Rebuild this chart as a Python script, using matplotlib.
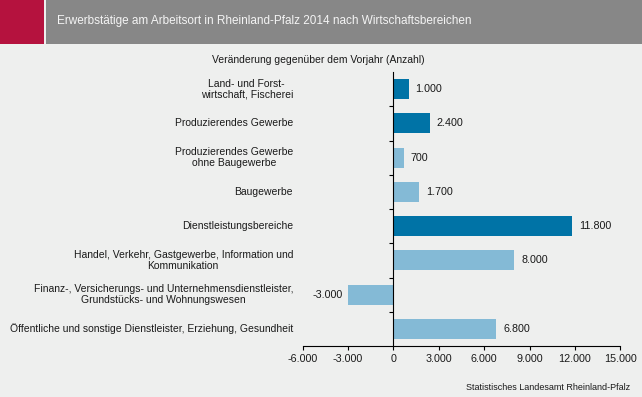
import matplotlib
matplotlib.use("Agg")
import matplotlib.pyplot as plt
from matplotlib.patches import Rectangle
from matplotlib.ticker import FuncFormatter, MultipleLocator

plt.rcParams['font.family'] = ['Liberation Sans', 'DejaVu Sans']

categories = [
    "Land- und Forst-\nwirtschaft, Fischerei",
    "Produzierendes Gewerbe",
    "Produzierendes Gewerbe\nohne Baugewerbe",
    "Baugewerbe",
    "Dienstleistungsbereiche",
    "Handel, Verkehr, Gastgewerbe, Information und\nKommunikation",
    "Finanz-, Versicherungs- und Unternehmensdienstleister,\nGrundstücks- und Wohnungswesen",
    "Öffentliche und sonstige Dienstleister, Erziehung, Gesundheit",
]
values = [1000, 2400, 700, 1700, 11800, 8000, -3000, 6800]
is_main = [True, True, False, False, True, False, False, False]

title = "Erwerbstätige am Arbeitsort in Rheinland-Pfalz 2014 nach Wirtschaftsbereichen"
subtitle = "Veränderung gegenüber dem Vorjahr (Anzahl)"
source = "Statistisches Landesamt Rheinland-Pfalz"

DARK = "#0073a6"
LIGHT = "#84bad6"
BG = "#eeefee"
TXT = "#1a1a1a"

W, H = 642, 397
fig = plt.figure(figsize=(W / 100, H / 100), dpi=100)
fig.patch.set_facecolor(BG)

# header band
fig.patches.append(Rectangle((0, 1 - 44 / H), 44 / W, 44 / H, transform=fig.transFigure,
                             facecolor="#b5123e", edgecolor="none"))
fig.patches.append(Rectangle((46 / W, 1 - 44 / H), 1 - 46 / W, 44 / H, transform=fig.transFigure,
                             facecolor="#878787", edgecolor="none"))
fig.text(57 / W, 1 - 21 / H, title, color="#f4f4f4", fontsize=8.5, va="center", ha="left")
fig.text(318 / W, 1 - 60 / H, subtitle, color=TXT, fontsize=7.5, va="center", ha="center")
fig.text(630 / W, 1 - 387 / H, source, color=TXT, fontsize=6.5, va="center", ha="right")

left, right, top, bottom = 302.7, 620.3, 72, 346
ax = fig.add_axes([left / W, 1 - bottom / H, (right - left) / W, (bottom - top) / H])
ax.set_facecolor(BG)

n = len(categories)
ypos = list(range(n))
colors = [DARK if m else LIGHT for m in is_main]
ax.barh(ypos, values, height=0.58, color=colors, edgecolor="none")
ax.set_ylim(n - 0.5, -0.5)
ax.set_xlim(-6000, 15000)

fmt = lambda v: f"{int(v):,}".replace(",", ".")
for y, v in zip(ypos, values):
    if v >= 0:
        ax.annotate(fmt(v), (v, y), xytext=(5, 0), textcoords="offset points",
                    va="center", ha="left", fontsize=7.75, color=TXT)
    else:
        ax.annotate(fmt(v), (v, y), xytext=(-4, 0), textcoords="offset points",
                    va="center", ha="right", fontsize=7.75, color=TXT)

for s in ["top", "right"]:
    ax.spines[s].set_visible(False)
ax.spines["left"].set_position(("data", 0))
ax.spines["left"].set_color("black")
ax.spines["bottom"].set_color("black")

ax.xaxis.set_major_locator(MultipleLocator(3000))
ax.xaxis.set_major_formatter(FuncFormatter(lambda v, p: fmt(v)))
ax.tick_params(axis="x", direction="out", length=3, labelsize=7.75, colors=TXT, pad=3)
ax.tick_params(axis="x", color="black")

ax.set_yticks([y + 0.5 for y in ypos[:-1]])
ax.set_yticklabels([])
ax.tick_params(axis="y", direction="out", length=3, color="black")

label_x = (293 - left) / (right - left)
for y, lab in zip(ypos, categories):
    ax.text(label_x, y, lab, transform=ax.get_yaxis_transform(),
            ha="right", va="center", fontsize=7.5, color=TXT, multialignment="center",
            linespacing=1.1)

fig.savefig("out.png", dpi=100, facecolor=BG)
